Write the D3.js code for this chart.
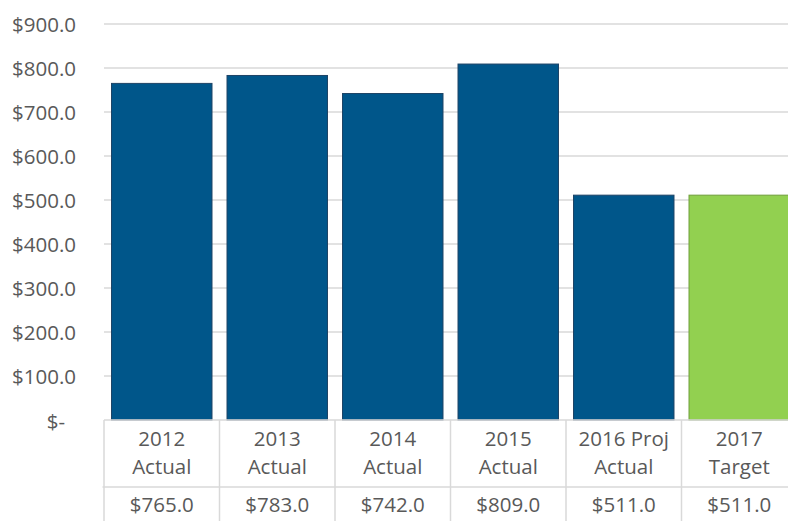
<!DOCTYPE html>
<html><head><meta charset="utf-8">
<script src="https://cdn.jsdelivr.net/npm/d3@7"></script>
<style>body{margin:0;background:#fff;}svg{display:block;font-family:"Open Sans",sans-serif;}</style>
</head><body>
<svg id="c" width="788" height="521"></svg>
<script>
const categories = [["2012","Actual"],["2013","Actual"],["2014","Actual"],["2015","Actual"],["2016 Proj","Actual"],["2017","Target"]];
const values = [765, 783, 742, 809, 511, 511];
const valueLabels = ["$765.0","$783.0","$742.0","$809.0","$511.0","$511.0"];
const barColors = ["#00568A","#00568A","#00568A","#00568A","#00568A","#92D050"];
const strokeColors = ["#1E4466","#1E4466","#1E4466","#1E4466","#1E4466","#6F9E3C"];
const yTicks = [0,100,200,300,400,500,600,700,800,900];

(function(){
const svg = d3.select("#c");
const pLeft = 104, pRight = 797, pTop = 24, pBottom = 420;
const fs = 20.5;
const x = d3.scaleBand().domain(d3.range(categories.length)).range([pLeft, pRight]).paddingInner(0.13).paddingOuter(0.065);
const y = d3.scaleLinear().domain([0, 900]).range([pBottom, pTop]);
const fmt = v => v === 0 ? "$-" : "$" + v.toFixed(1);

svg.append("g").selectAll("line").data(yTicks.filter(t => t > 0)).join("line")
  .attr("x1", pLeft).attr("x2", pRight).attr("y1", d => y(d)).attr("y2", d => y(d))
  .attr("stroke", "#D9D9D9").attr("stroke-width", 1.5);

const yAxis = d3.axisLeft(y).tickValues(yTicks).tickFormat(fmt).tickSize(0).tickPadding(0);
const ya = svg.append("g").attr("transform", "translate(76,0)").call(yAxis);
ya.select(".domain").remove();
ya.selectAll("text").attr("font-size", fs).attr("fill", "#595959").attr("font-family", "'Open Sans',sans-serif").attr("dy", "0.35em");
ya.selectAll(".tick").filter(d => d === 0).select("text").attr("x", -11).attr("dy", "0.4em");

svg.append("g").selectAll("rect").data(values).join("rect")
  .attr("x", (d, i) => x(i)).attr("width", x.bandwidth())
  .attr("y", d => y(d)).attr("height", d => y(0) - y(d))
  .attr("fill", (d, i) => barColors[i]).attr("stroke", (d, i) => strokeColors[i]).attr("stroke-width", 1);

const step = x.step();
const row1 = 487, row2 = 540;
const tg = svg.append("g").attr("stroke", "#D9D9D9").attr("stroke-width", 1.5);
tg.append("line").attr("x1", pLeft).attr("x2", pRight).attr("y1", pBottom).attr("y2", pBottom);
tg.append("line").attr("x1", pLeft - 1.5).attr("x2", pRight).attr("y1", row1).attr("y2", row1);
d3.range(categories.length + 1).forEach(i => {
  const xx = pLeft + i * step;
  tg.append("line").attr("x1", xx).attr("x2", xx).attr("y1", pBottom).attr("y2", row2);
});

const cg = svg.append("g").attr("font-size", fs).attr("fill", "#595959").attr("text-anchor", "middle");
categories.forEach((c, i) => {
  const cx = pLeft + (i + 0.5) * step;
  cg.append("text").attr("x", cx).attr("y", 439).attr("dy", "0.35em").text(c[0]);
  cg.append("text").attr("x", cx).attr("y", 467).attr("dy", "0.35em").text(c[1]);
  cg.append("text").attr("x", cx).attr("y", 505).attr("dy", "0.35em").text(valueLabels[i]);
});
})();
</script>
</body></html>
